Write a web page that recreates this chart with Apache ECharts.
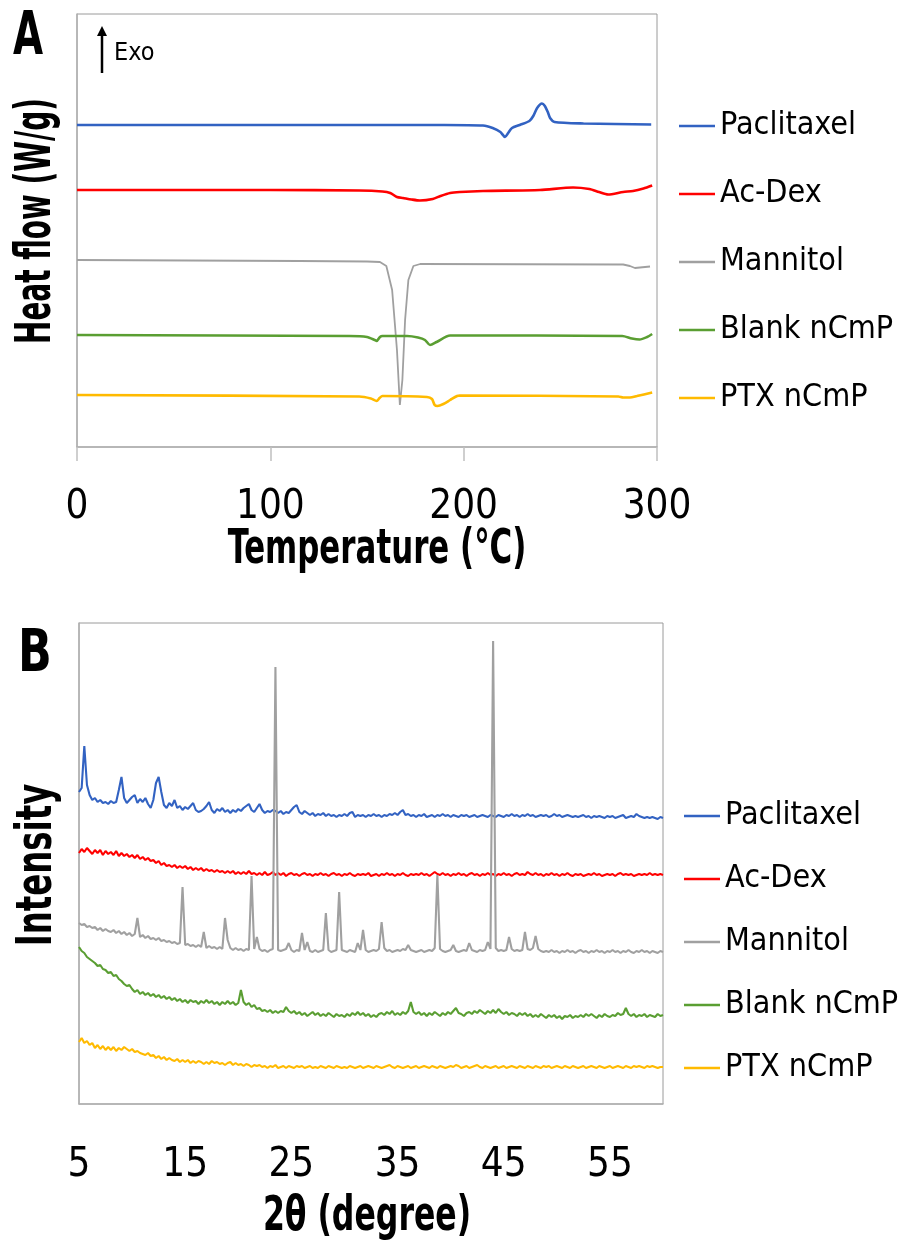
<!DOCTYPE html>
<html><head><meta charset="utf-8">
<script src="https://cdn.jsdelivr.net/npm/echarts@6/dist/echarts.min.js"></script>
<style>html,body{margin:0;padding:0;background:#fff}#c{width:901px;height:1260px}</style>
</head><body><div id="c"></div>
<script>
const FONT = "'DejaVu Sans Condensed','DejaVu Sans',sans-serif";
const seriesNames = ['Paclitaxel', 'Ac-Dex', 'Mannitol', 'Blank nCmP', 'PTX nCmP'];
const seriesColors = ['#3262C2', '#FF0000', '#A0A0A0', '#5A9E32', '#FFBA00'];

// ---- Panel A: DSC (temperature in °C, heat flow in offset arbitrary units) ----
const dscTicks = [0, 100, 200, 300];
const dscPaclitaxel = [[0,64.4],[100,64.4],[190,64.4],[210,64.3],[215,63.8],[219,63],[221.4,62],[223,62.8],[225,63.8],[229,64.4],[234,65.2],[236,66.2],[238,67.8],[240.5,68.7],[242,68.2],[243.5,67],[244.7,65.8],[247,65],[262,64.7],[297,64.5]];
const dscAcDex = [[0,51.4],[100,51.4],[146,51.3],[158,51.1],[162,50.8],[165.5,50],[168.6,49.8],[173,49.5],[177.4,49.3],[184,49.6],[188,50.2],[193,50.8],[198,51],[210,51.2],[239.5,51.4],[256.6,51.9],[265,51.6],[270,51],[274.7,50.5],[282.5,51],[287.6,51.2],[293,51.7],[297.5,52.3]];
const dscMannitol = [[0,37.4],[115,37.2],[150,37.1],[156.7,37],[160,36.2],[163,31.4],[165.5,19.4],[167,8.4],[168.3,13.4],[169.7,25.4],[171.4,33.4],[174,36.2],[177.5,36.6],[282.5,36.5],[286,36.2],[288.6,35.8],[296.4,36.1]];
const dscBlank = [[0,22.4],[141,22.2],[150,22],[154,21.4],[155,21.2],[156.7,22],[158,22.2],[170.7,22.2],[176.4,21.9],[180,21.4],[182.6,20.4],[186,21],[193,22.3],[282,22.2],[287,21.7],[291,21.5],[294.9,22],[297.5,22.6]];
const dscPTX = [[0,10.4],[146,10.1],[152,9.7],[155,9.2],[156.5,9.8],[158,10.2],[181,10],[183.6,9.6],[185,8.4],[186.4,8.2],[189.5,8.6],[193,9.4],[196.6,10.2],[198,10.3],[280,10.1],[282.5,9.9],[286,9.9],[289.6,10.2],[297.5,10.9]];

// ---- Panel B: XRD (2θ from 5° to 60° in 0.25° steps, intensity in offset arbitrary units) ----
const xrdTicks = [5, 15, 25, 35, 45, 55];
const xrdStart = 5, xrdStep = 0.25;
const xrdPaclitaxel = [
62.4,63.2,71.6,63.8, 61.8,60.8,61.2,60.4, 60.8,60.2,60.4,60.0, 60.6,60.2,60.4,62.8,
65.4,61.2,60.2,60.8, 61.4,61.8,60.2,61.0, 60.4,61.2,60.0,59.2, 60.8,64.2,65.4,62.4,
59.8,59.2,60.2,59.6, 60.8,59.2,59.6,58.8, 59.4,59.0,59.6,60.2, 58.8,58.4,58.6,59.0,
59.6,60.4,58.8,58.2, 59.0,58.6,59.2,58.4, 58.8,58.2,58.8,58.4, 59.0,58.6,59.2,59.6,
60.0,58.8,58.4,59.2, 60.0,58.8,58.2,58.6, 58.4,58.8,58.6,58.2, 58.6,58.0,58.4,58.2,
58.8,59.4,59.8,58.4, 58.0,58.6,58.2,57.8, 58.2,57.6,58.0,57.8, 58.2,57.6,58.0,57.6,
57.8,57.4,57.8,57.6, 58.0,57.6,58.2,58.4, 57.4,57.8,57.6,57.8, 57.4,57.8,57.6,58.0,
57.6,57.8,57.4,57.8, 57.6,58.0,57.8,58.2, 57.8,58.4,58.8,57.8, 58.0,57.6,57.8,57.4,
57.8,57.6,58.0,57.4, 57.6,57.8,57.4,57.8, 57.6,58.0,57.6,57.8, 57.4,57.8,57.6,57.4,
57.8,57.6,57.8,57.4, 57.6,57.8,57.4,57.6, 57.8,57.6,57.4,57.8, 57.6,57.4,57.8,57.6,
57.4,57.8,57.6,58.0, 57.6,57.8,57.4,57.8, 57.6,58.0,57.6,57.8, 57.4,57.6,57.8,57.6,
57.8,57.4,57.6,58.0, 57.6,57.8,57.4,57.6, 57.8,57.6,57.4,57.6, 57.4,57.6,57.8,57.4,
57.6,57.2,57.6,57.4, 57.6,57.4,57.2,57.6, 57.4,57.6,57.2,57.4, 57.6,57.8,57.2,57.4,
57.6,57.4,58.0,57.6, 57.4,57.2,57.4,57.2, 57.4,57.2,57.0,57.4, 57.2];
const xrdAcDex = [
50.2,51.0,50.4,51.2, 50.6,50.0,50.8,50.2, 50.8,49.8,50.6,50.0, 50.4,49.8,50.6,49.6,
50.2,49.6,50.0,49.4, 49.8,49.2,49.8,49.0, 49.4,48.8,49.2,48.6, 48.8,48.2,48.6,47.8,
48.2,47.6,47.8,47.4, 47.8,47.2,47.6,47.2, 47.6,47.0,47.4,46.8, 47.2,46.8,47.2,46.6,
47.0,46.6,46.8,46.4, 46.8,46.4,46.6,46.2, 46.6,46.2,46.6,46.0, 46.4,46.0,46.4,46.0,
46.6,46.0,46.2,45.8, 46.2,45.8,46.4,45.8, 46.0,46.4,45.8,46.2, 45.8,46.2,45.6,46.0,
46.2,45.8,46.0,45.6, 46.0,46.2,45.8,46.0, 45.6,46.0,45.8,46.2, 45.8,46.0,45.6,46.0,
46.2,45.8,46.0,45.6, 46.0,45.8,46.2,45.8, 45.6,46.0,45.8,46.0, 45.8,46.2,45.6,45.8,
46.0,45.6,46.0,45.8, 46.2,45.8,46.0,45.6, 46.0,45.8,46.2,45.8, 45.6,46.0,45.8,46.0,
45.8,46.2,45.8,46.0, 45.6,46.0,46.4,46.0, 45.8,46.2,45.8,46.0, 45.6,46.0,45.8,46.2,
45.8,46.0,45.6,46.0, 46.2,45.8,46.0,45.6, 46.0,45.8,46.2,45.8, 46.0,45.6,46.0,45.8,
46.2,45.8,46.0,45.6, 46.0,46.2,45.8,46.0, 45.8,46.4,46.0,45.8, 46.2,45.8,46.0,45.6,
46.0,45.8,46.2,45.8, 46.0,45.6,46.0,45.8, 46.2,45.8,45.6,46.0, 45.8,46.0,45.6,45.8,
46.0,45.8,46.2,45.8, 46.0,45.6,45.8,46.0, 45.8,46.0,45.6,46.0, 46.2,45.8,46.0,45.8,
46.0,45.6,45.8,46.0, 45.8,46.0,45.8,46.2, 45.8,46.0,45.8,46.0, 45.8];
const xrdMannitol = [
36.2,35.8,36.0,35.4, 35.6,35.2,35.4,34.8, 35.2,34.6,35.0,34.6, 34.4,34.8,34.2,34.6,
34.0,34.4,33.8,34.2, 33.6,34.0,37.2,33.4, 33.8,33.2,33.6,33.0, 33.2,32.8,33.2,32.6,
32.8,32.4,32.6,32.2, 32.4,32.0,32.2,43.4, 31.8,32.0,31.6,31.8, 31.4,31.8,31.4,34.4,
31.2,31.6,31.2,31.4, 31.0,31.4,31.0,37.2, 32.8,31.2,30.8,31.2, 30.8,31.0,30.6,31.0,
30.8,45.6,31.0,33.4, 31.0,30.6,30.8,30.4, 30.8,31.0,87.4,30.8, 30.6,30.8,31.0,32.2,
30.8,30.4,30.8,30.6, 34.2,30.8,32.4,30.6, 30.4,30.8,30.4,30.6, 30.8,38.2,30.8,30.4,
30.6,30.8,42.4,30.8, 30.6,30.4,30.8,30.6, 30.4,32.2,30.8,34.8, 30.8,30.4,30.6,30.8,
30.6,31.0,36.4,31.2, 30.6,30.8,30.4,30.6, 30.8,30.6,31.0,30.8, 31.8,30.8,30.6,30.4,
30.6,30.8,30.4,30.6, 30.8,30.6,31.2,45.8, 31.0,30.6,30.4,30.6, 30.8,31.8,30.6,30.4,
30.6,30.8,30.6,32.2, 30.8,30.6,30.4,30.8, 30.6,30.8,32.4,31.0, 92.6,31.2,30.6,30.8,
30.6,30.8,33.4,31.0, 30.6,30.8,30.6,30.8, 34.4,31.0,30.8,31.2, 33.6,31.0,30.6,30.4,
30.6,30.4,30.8,30.4, 30.6,30.2,30.6,30.4, 30.8,30.4,30.6,30.2, 30.6,30.8,30.4,30.6,
30.2,30.6,30.4,30.8, 30.4,30.6,30.2,30.6, 30.4,30.8,30.4,30.6, 30.2,30.6,30.4,30.8,
30.4,30.2,30.6,30.4, 30.8,30.4,30.6,30.2, 30.6,30.4,30.2,30.6, 30.4];
const xrdBlank = [
31.4,30.6,30.2,29.4, 29.0,28.6,28.2,27.6, 27.8,27.0,26.8,26.2, 26.4,25.6,25.8,25.0,
24.6,24.0,23.6,23.8, 23.0,22.4,22.8,22.0, 22.4,21.8,22.2,21.6, 22.0,21.4,21.8,21.2,
21.6,21.0,21.4,20.8, 21.2,20.6,21.0,20.4, 20.8,20.2,20.8,20.4, 20.6,20.0,20.6,20.2,
20.8,20.2,20.6,20.0, 20.4,19.8,20.4,20.0, 20.6,20.0,20.4,19.8, 20.2,22.8,20.4,19.8,
20.2,19.4,19.8,19.0, 19.2,18.6,18.8,18.4, 18.8,18.2,18.6,18.2, 18.6,18.4,19.4,18.6,
18.2,18.6,18.0,18.4, 17.8,18.2,17.6,18.0, 18.4,17.8,18.2,17.6, 18.0,17.6,18.2,17.8,
17.4,18.0,17.6,17.8, 17.4,18.0,17.6,18.2, 17.8,18.4,17.8,18.2, 17.6,18.0,17.4,17.8,
17.4,18.0,18.2,17.8, 18.4,18.0,18.6,17.8, 18.2,17.8,18.4,18.0, 18.6,20.4,18.4,18.0,
18.4,17.8,18.2,17.6, 18.2,17.8,18.4,18.0, 17.6,18.2,17.8,18.4, 18.0,18.6,19.2,18.2,
18.0,17.6,18.2,18.4, 18.0,18.6,18.2,18.8, 18.4,18.0,18.6,18.2, 18.8,18.2,19.0,18.4,
18.0,18.4,17.8,18.2, 18.0,17.6,18.2,17.8, 18.2,17.6,18.0,17.4, 17.8,17.4,18.0,17.6,
17.2,17.8,17.4,17.8, 17.2,17.6,17.0,17.6, 17.4,17.8,17.2,17.6, 17.4,17.8,17.4,18.0,
17.6,18.0,17.6,17.2, 17.8,17.4,18.0,17.6, 17.4,17.8,17.6,18.2, 17.8,18.0,19.2,18.0,
17.6,18.0,17.4,17.8, 17.6,18.0,17.4,17.8, 17.6,17.4,18.0,17.6, 17.8];
const xrdPTX = [
12.4,13.2,12.2,12.6, 11.8,12.2,11.2,11.8, 11.0,11.6,10.8,11.4, 10.8,11.4,10.6,11.2,
10.8,11.4,11.0,10.6, 11.0,10.4,10.6,10.2, 10.0,9.8,10.2,9.6, 9.8,9.2,9.6,9.0,
9.4,8.8,9.2,8.8, 8.6,9.0,8.4,8.8, 8.4,8.8,8.2,8.6, 8.2,8.6,8.4,8.0,
8.4,8.0,8.6,8.2, 8.4,8.0,8.2,7.8, 8.2,8.4,7.8,8.2, 7.8,8.0,7.6,8.0,
7.8,7.4,7.8,7.6, 7.8,7.4,7.6,7.2, 7.6,7.4,7.8,7.2, 7.4,7.6,7.2,7.6,
7.4,7.2,7.6,7.4, 7.6,7.2,7.4,7.6, 7.2,7.4,7.2,7.6, 7.4,7.2,7.6,7.4,
7.2,7.6,7.4,7.2, 7.4,7.2,7.6,7.4, 7.2,7.4,7.6,7.2, 7.4,7.6,7.4,7.2,
7.6,7.4,7.2,7.4, 7.6,7.8,7.4,7.2, 7.6,7.4,7.2,7.4, 7.6,7.2,7.4,7.6,
7.2,7.4,7.6,7.4, 7.2,7.6,7.4,7.2, 7.6,7.4,7.2,7.4, 7.6,7.4,7.8,7.6,
7.2,7.4,7.6,7.2, 7.4,7.6,7.8,7.4, 7.2,7.6,7.4,7.2, 7.4,7.6,7.2,7.4,
7.6,7.2,7.4,7.6, 7.4,7.2,7.6,7.4, 7.2,7.6,7.4,7.2, 7.6,7.4,7.2,7.6,
7.4,7.6,7.2,7.4, 7.6,7.4,7.2,7.6, 7.4,7.2,7.6,7.4, 7.2,7.4,7.6,7.2,
7.4,7.6,7.4,7.2, 7.6,7.4,7.2,7.4, 7.6,7.2,7.4,7.6, 7.4,7.2,7.6,7.4,
7.2,7.6,7.4,7.6, 7.4,7.2,7.6,7.4, 7.6,7.4,7.2,7.4, 7.4];

const dscSets = [dscPaclitaxel, dscAcDex, dscMannitol, dscBlank, dscPTX];
const xrdSets = [xrdPaclitaxel, xrdAcDex, xrdMannitol, xrdBlank, xrdPTX];
const toPairs = arr => arr.map((v, i) => [xrdStart + i * xrdStep, v]);

const chart = echarts.init(document.getElementById('c'), null, {renderer: 'canvas'});
const legendBase = {
  orient: 'vertical', icon: 'rect', itemWidth: 36, itemHeight: 2.5,
  selectedMode: false, data: seriesNames,
  textStyle: {fontFamily: FONT, fontSize: 32, lineHeight: 40, color: '#000'}
};
const series = [];
seriesNames.forEach((n, i) => {
  series.push({
    name: n, type: 'line', xAxisIndex: 0, yAxisIndex: 0, data: dscSets[i],
    showSymbol: false, smooth: i === 2 ? false : 0.25, z: 2,
    lineStyle: {width: i === 2 ? 1.8 : 2.6, color: seriesColors[i]},
    itemStyle: {color: seriesColors[i]}
  });
});
seriesNames.forEach((n, i) => {
  series.push({
    name: n, type: 'line', xAxisIndex: 1, yAxisIndex: 1, data: toPairs(xrdSets[i]),
    showSymbol: false, z: 2,
    lineStyle: {width: 2.1, color: seriesColors[i]},
    itemStyle: {color: seriesColors[i]}
  });
});

function label(text, x, y, size, sx, rot, weight) {
  return {type: 'text', x: x, y: y, rotation: rot || 0, scaleX: sx, scaleY: 1,
    style: {text: text, fontFamily: FONT, fontSize: size, fontWeight: weight || 'bold', fill: '#000',
      align: 'center', verticalAlign: 'middle', textAlign: 'center', textVerticalAlign: 'middle'}};
}

chart.setOption({
  animation: false,
  backgroundColor: '#fff',
  legend: [
    Object.assign({}, legendBase, {left: 674, top: 101, itemGap: 28}),
    Object.assign({}, legendBase, {left: 679, top: 791, itemGap: 23})
  ],
  grid: [
    {left: 77, top: 14, width: 580, height: 433, show: true, borderColor: '#9a9a9a', borderWidth: 1},
    {left: 79, top: 623, width: 584, height: 481, show: true, borderColor: '#9a9a9a', borderWidth: 1}
  ],
  xAxis: [
    {gridIndex: 0, type: 'value', min: 0, max: 300,
     axisLine: {lineStyle: {color: '#b0b0b0', width: 1.5}},
     axisTick: {show: true, inside: false, length: 14, customValues: dscTicks, lineStyle: {color: '#c0c0c0', width: 1.5}},
     axisLabel: {customValues: dscTicks, fontFamily: FONT, fontSize: 40, color: '#000', margin: 41},
     splitLine: {show: false}},
    {gridIndex: 1, type: 'value', min: 5, max: 60,
     axisLine: {lineStyle: {color: '#b0b0b0', width: 1.5}},
     axisTick: {show: false},
     axisLabel: {customValues: xrdTicks, fontFamily: FONT, fontSize: 40, color: '#000', margin: 42},
     splitLine: {show: false}}
  ],
  yAxis: [
    {gridIndex: 0, type: 'value', min: 0, max: 86.6,
     axisLine: {show: true, lineStyle: {color: '#b0b0b0', width: 1.5}},
     axisTick: {show: false}, axisLabel: {show: false}, splitLine: {show: false}},
    {gridIndex: 1, type: 'value', min: 0, max: 96.2,
     axisLine: {show: true, lineStyle: {color: '#b0b0b0', width: 1.5}},
     axisTick: {show: false}, axisLabel: {show: false}, splitLine: {show: false}}
  ],
  graphic: [
    label('A', 28, 38, 60, 0.72),
    label('B', 35, 656, 58, 0.85),
    label('Temperature (°C)', 377, 551, 48, 0.715),
    label('2θ (degree)', 367, 1218, 48, 0.73),
    label('Heat flow (W/g)', 37, 221, 50, 0.62, Math.PI / 2),
    label('Intensity', 38, 865, 50, 0.72, Math.PI / 2),
    {type: 'line', shape: {x1: 102, y1: 73, x2: 102, y2: 34}, style: {stroke: '#000', lineWidth: 2.5}},
    {type: 'polygon', shape: {points: [[97, 36], [102, 26], [107, 36]]}, style: {fill: '#000'}},
    {type: 'text', x: 114, y: 53, style: {text: 'Exo', fontFamily: FONT, fontSize: 25, fill: '#000', verticalAlign: 'middle', textVerticalAlign: 'middle'}}
  ],
  series: series
});
</script>
</body></html>
